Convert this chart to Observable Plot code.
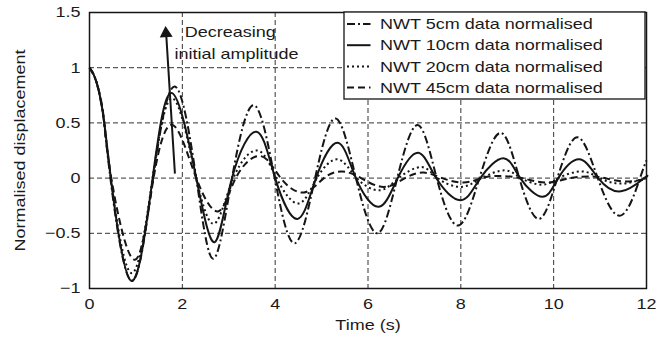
<!DOCTYPE html>
<html><head><meta charset="utf-8">
<script src="https://cdn.jsdelivr.net/npm/d3@7"></script>
<script src="https://cdn.jsdelivr.net/npm/@observablehq/plot@0.6"></script>
<style>
body{margin:0;background:#fff;}
#chart{position:relative;width:672px;height:349px;}
</style></head><body><div id="chart"></div>
<script>
const seriesNames = ["NWT 5cm data normalised","NWT 10cm data normalised","NWT 20cm data normalised","NWT 45cm data normalised"];

const time5 = [0,0.15,0.3,0.45,0.9,1.37,1.84,2.3,2.67,3.07,3.54,3.99,4.42,4.86,5.3,5.74,6.2,6.63,7.07,7.48,7.94,8.4,8.86,9.26,9.68,10.08,10.51,10.95,11.44,11.86,12];
const disp5 = [1,0.87,0.55,0,-0.93,0,0.83,0,-0.73,0,0.66,0,-0.59,0,0.54,0,-0.5,0,0.48,0,-0.43,0,0.41,0,-0.37,0,0.37,0,-0.34,0,0.16];

const time10 = [0,0.15,0.3,0.46,0.9,1.36,1.78,2.3,2.7,3.07,3.6,4.0,4.48,4.88,5.35,5.74,6.23,6.64,7.08,7.47,8.0,8.42,8.92,9.28,9.76,10.1,10.55,10.96,11.45,11.95,12];
const disp10 = [1,0.87,0.56,0,-0.93,0,0.77,0,-0.58,0,0.42,0,-0.37,0,0.32,0,-0.26,0,0.23,0,-0.2,0,0.18,0,-0.17,0,0.17,0,-0.12,0,0.01];

const time20 = [0,0.15,0.3,0.46,0.9,1.36,1.8,2.3,2.7,3.1,3.62,4.03,4.5,4.9,5.35,5.76,6.25,6.66,7.15,7.5,8.0,8.45,8.95,9.3,9.75,10.1,10.6,11.0,11.45,12];
const disp20 = [1,0.87,0.56,0,-0.86,0,0.72,0,-0.41,0,0.25,0,-0.23,0,0.17,0,-0.11,0,0.1,0,-0.08,0,0.07,0,-0.06,0,0.06,0,-0.05,0];

const time45 = [0,0.15,0.3,0.47,0.97,1.38,1.8,2.3,2.78,3.15,3.68,4.12,4.62,5.05,5.45,5.85,6.34,6.8,7.2,7.6,8.06,8.45,8.79,9.3,9.86,10.35,10.8,11.1,11.5,12];
const disp45 = [1,0.87,0.57,0,-0.74,0,0.48,0,-0.3,0,0.2,0,-0.13,0,0.06,0,-0.08,0,0.05,0,-0.04,0,0.02,0,-0.04,0,0.015,0,-0.03,-0.01];

const xTicks = [0,2,4,6,8,10,12];
const yTicks = [-1,-0.5,0,0.5,1,1.5];

const arrowShaft = [{x1:1.84, y1:0.04, x2:1.65, y2:1.32}];
const arrowHead = [{x:1.648, y:1.31}];
const annotText = ["Decreasing","initial amplitude"];
const annotX = [2.05, 1.83];
const annotY = [1.32, 1.126];

const seriesData = [[time5,disp5],[time10,disp10],[time20,disp20],[time45,disp45]];
const rows = [];
seriesData.forEach(([t,v],i)=>t.forEach((x,j)=>rows.push({series:seriesNames[i], t:x, v:v[j]})));
const annots = annotText.map((s,i)=>({s, x:annotX[i], y:annotY[i]}));

const dashStyles = ["8,3,2,3", null, "2,3", "7,4"];
const ink = "#151515";

const plot = Plot.plot({
  width: 672, height: 349,
  marginLeft: 89, marginRight: 26, marginTop: 12, marginBottom: 61,
  style: {fontSize:"15px", fontFamily:"'Liberation Sans', Arial, sans-serif", color:"#1a1a1a", background:"white"},
  x: {domain:[0,12]},
  y: {domain:[-1,1.5]},
  marks: [
    Plot.gridX(xTicks.slice(1,-1), {stroke:"#333", strokeOpacity:1, strokeWidth:1, strokeDasharray:"5,3"}),
    Plot.gridY(yTicks.slice(1,-1), {stroke:"#333", strokeOpacity:1, strokeWidth:1, strokeDasharray:"5,3"}),
    ...seriesNames.map((name,i)=>Plot.line(rows.filter(r=>r.series===name), {
      x:"t", y:"v", curve:"natural", stroke:ink, strokeWidth:2,
      strokeDasharray: dashStyles[i], strokeLinecap:"butt", strokeLinejoin:"round"
    })),
    Plot.link(arrowShaft, {x1:"x1", y1:"y1", x2:"x2", y2:"y2", stroke:ink, strokeWidth:2}),
    Plot.dot(arrowHead, {x:"x", y:"y", symbol:"triangle", r:4.8, fill:ink, stroke:"none", rotate:-3.6}),
    Plot.text(annots, {x:"x", y:"y", text:"s", textAnchor:"start", fill:"#1a1a1a"}),
    Plot.frame({stroke:ink, strokeWidth:1.5}),
    Plot.axisX(xTicks, {tickSize:0, tickPadding:10, label:null}),
    Plot.axisY(yTicks, {tickSize:0, tickPadding:9, label:null, tickFormat: d => d < 0 ? "\u2212" + (-d) : String(d)}),
    Plot.text(["Time (s)"], {frameAnchor:"bottom", dy:41, textAnchor:"middle", fill:"#1a1a1a"}),
    Plot.text(["Normalised displacement"], {frameAnchor:"left", dx:-69, rotate:-90, textAnchor:"middle", fill:"#1a1a1a"})
  ]
});
document.getElementById("chart").appendChild(plot);

// Legend box inside the plot (top-right)
const svg = d3.select(plot);
const lg = svg.append("g").attr("class","legend").attr("text-anchor","start");
const lx = 344, ly = 12, lw = 301, lh = 87;
lg.append("rect").attr("x",lx).attr("y",ly).attr("width",lw).attr("height",lh)
  .attr("fill","white").attr("stroke",ink).attr("stroke-width",1.3);
seriesNames.forEach((name,i)=>{
  const cy = 24 + 21.2*i;
  lg.append("line").attr("x1",347).attr("x2",370.5).attr("y1",cy).attr("y2",cy)
    .attr("stroke",ink).attr("stroke-width",2).attr("stroke-dasharray",dashStyles[i]).attr("stroke-linecap","butt");
  lg.append("text").attr("x",380).attr("y",cy).attr("dy","0.35em").attr("fill","#1a1a1a").text(name);
});

// The reference font is wider than Arial: stretch every text along its reading direction
const S = 1.2;
plot.querySelectorAll("text").forEach(t=>{
  const spans = t.querySelectorAll("tspan");
  const targets = spans.length ? Array.from(spans) : [t];
  targets.forEach(el=>{
    const len = el.getComputedTextLength();
    if (len > 0) {
      el.setAttribute("textLength", (len*S).toFixed(1));
      el.setAttribute("lengthAdjust","spacingAndGlyphs");
    }
  });
});
</script></body></html>
